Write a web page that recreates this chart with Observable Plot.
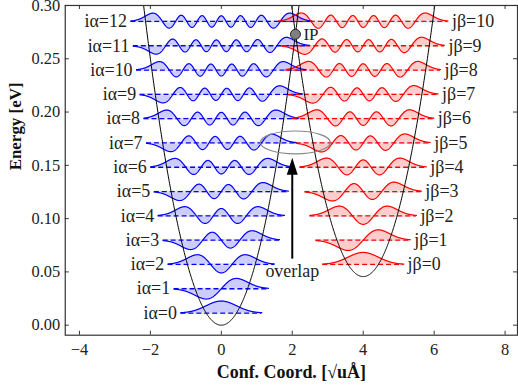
<!DOCTYPE html>
<html><head><meta charset="utf-8">
<script src="https://cdn.jsdelivr.net/npm/d3@7"></script>
<script src="https://cdn.jsdelivr.net/npm/@observablehq/plot@0.6"></script>
<style>body{margin:0;overflow:hidden;background:#fff}</style>
</head><body><div id="chart"></div>
<script>
// ---- data ----
const alphaN = [0,1,2,3,4,5,6,7,8,9,10,11,12];
const alphaLevels = [0.0114,0.0342,0.0570,0.0798,0.1026,0.1254,0.1482,0.1710,0.1938,0.2166,0.2394,0.2622,0.2850];
const alphaHalfWidth = [1.14,1.33,1.50,1.64,1.78,1.89,1.99,2.11,2.18,2.29,2.39,2.48,2.55];
const betaN = [0,1,2,3,4,5,6,7,8,9,10];
const betaLevels = [0.0570,0.0798,0.1026,0.1254,0.1482,0.1710,0.1938,0.2166,0.2394,0.2622,0.2850];
const betaHalfWidth = [1.14,1.33,1.50,1.64,1.78,1.89,1.99,2.11,2.18,2.29,2.39];
const wellCenters = [0, 4];
const wellMinima = [0, 0.0456];
const wellCurvature = 0.0625;     // eV per (sqrt(u)Å)^2
const wellHalfSpan = 2.35;
const waveSigma = 0.427;          // oscillator length
const waveAmplitude = 0.015;      // eV per unit of wavefunction
const xTicks = [-4,-2,0,2,4,6,8];
const yTicks = [0,0.05,0.10,0.15,0.20,0.25,0.30];
const ipPoint = [{x: 2.09, y: 0.273, label: "IP"}];
const overlapText = [{x: 2.0, y: 0.051, label: "overlap"}];
const arrowShaft = [{x: 2.0, y1: 0.062, y2: 0.142}];
const arrowTip = [{x: 2.0, y: 0.157}];
const ellipseCenter = {x: 2.10, y: 0.171};

// ---- build curves ----
function hermiteFn(n, xi) {
  let p0 = Math.pow(Math.PI, -0.25) * Math.exp(-xi * xi / 2);
  if (n === 0) return p0;
  let p1 = Math.SQRT2 * xi * p0;
  for (let k = 1; k < n; k++) {
    const p2 = Math.sqrt(2 / (k + 1)) * xi * p1 - Math.sqrt(k / (k + 1)) * p0;
    p0 = p1; p1 = p2;
  }
  return p1;
}
function makeStates(ns, levels, halfW, center, fam) {
  return ns.map((n, i) => ({id: fam + n, n, fam, level: levels[i], c: center, h: halfW[i]}));
}
const alphaStates = makeStates(alphaN, alphaLevels, alphaHalfWidth, wellCenters[0], "a");
const betaStates = makeStates(betaN, betaLevels, betaHalfWidth, wellCenters[1], "b");
function wavePoints(states) {
  const pts = [];
  for (const s of states) {
    const steps = Math.round(2 * s.h / 0.01);
    for (let k = 0; k <= steps; k++) {
      const x = s.c - s.h + (2 * s.h) * k / steps;
      const xi = (x - s.c) / waveSigma;
      pts.push({id: s.id, x, level: s.level, y: s.level + waveAmplitude * hermiteFn(s.n, xi)});
    }
  }
  return pts;
}
const alphaPts = wavePoints(alphaStates);
const betaPts = wavePoints(betaStates);
const wellPts = [];
wellCenters.forEach((c, w) => {
  for (let k = 0; k <= 400; k++) {
    const x = c - wellHalfSpan + 2 * wellHalfSpan * k / 400;
    wellPts.push({w, x, y: wellMinima[w] + wellCurvature * (x - c) ** 2});
  }
});

const W = 520, H = 389, mL = 65, mR = 1, mT = 5, mB = 53;
const pw = W - mL - mR, ph = H - mT - mB;
const blue = "#0000ff", red = "#ff0000", ink = "#222";

const tipSymbol = {draw(ctx) { ctx.moveTo(0, 0); ctx.lineTo(-5.5, 17); ctx.lineTo(5.5, 17); ctx.closePath(); }};

const plot = Plot.plot({
  width: W, height: H,
  marginLeft: mL, marginRight: mR, marginTop: mT, marginBottom: mB,
  style: {fontFamily: "'Liberation Serif', serif", fontSize: "16px", color: ink, background: "white"},
  x: {domain: [-4.4, 8.35]},
  y: {domain: [-0.0094, 0.30]},
  marks: [
    Plot.areaY(alphaPts, {x: "x", y1: "level", y2: "y", z: "id", fill: blue, fillOpacity: 0.2}),
    Plot.areaY(betaPts, {x: "x", y1: "level", y2: "y", z: "id", fill: red, fillOpacity: 0.2}),
    Plot.ruleY(alphaStates, {y: "level", x1: d => d.c - d.h, x2: d => d.c + d.h, stroke: "#e2e2e2", strokeWidth: 2.2}),
    Plot.ruleY(betaStates, {y: "level", x1: d => d.c - d.h, x2: d => d.c + d.h, stroke: "#e2e2e2", strokeWidth: 2.2}),
    Plot.ruleY(alphaStates, {y: "level", x1: d => d.c - d.h, x2: d => d.c + d.h, stroke: blue, strokeWidth: 1.3, strokeDasharray: "5,3"}),
    Plot.ruleY(betaStates, {y: "level", x1: d => d.c - d.h, x2: d => d.c + d.h, stroke: red, strokeWidth: 1.3, strokeDasharray: "5,3"}),
    Plot.line(alphaPts, {x: "x", y: "y", z: "id", stroke: blue, strokeWidth: 1.2}),
    Plot.line(betaPts, {x: "x", y: "y", z: "id", stroke: red, strokeWidth: 1.2}),
    Plot.line(wellPts, {x: "x", y: "y", z: "w", stroke: "#000", strokeWidth: 1, clip: true}),
    Plot.text(alphaStates, {x: d => d.c - d.h, y: "level", text: d => `iα=${d.n}`, textAnchor: "end", dx: -4, fontSize: 18, fill: ink, ariaLabel: "state-label"}),
    Plot.text(betaStates, {x: d => d.c + d.h, y: "level", text: d => `jβ=${d.n}`, textAnchor: "start", dx: 4, fontSize: 18, fill: ink, ariaLabel: "state-label"}),
    Plot.ruleX(arrowShaft, {x: "x", y1: "y1", y2: "y2", stroke: "#000", strokeWidth: 2}),
    Plot.dot(arrowTip, {x: "x", y: "y", symbol: tipSymbol, fill: "#000", stroke: "none"}),
    Plot.text(overlapText, {x: "x", y: "y", text: "label", fontSize: 18, fill: ink}),
    Plot.dot(ipPoint, {x: "x", y: "y", r: 5, fill: "#808080", stroke: "#222", strokeWidth: 1}),
    Plot.text(ipPoint, {x: "x", y: "y", text: "label", dx: 8, textAnchor: "start", fontSize: 17, fill: ink}),
    Plot.frame({stroke: "#333", strokeWidth: 1.2}),
    Plot.tickY(yTicks, {y: d => d, insetRight: pw - 4, stroke: "#333"}),
    Plot.tickY(yTicks, {y: d => d, insetLeft: pw - 4, stroke: "#333"}),
    Plot.tickX(xTicks, {x: d => d, insetTop: ph - 4, stroke: "#333"}),
    Plot.tickX(xTicks, {x: d => d, insetBottom: ph - 4, stroke: "#333"}),
    Plot.axisY({ticks: yTicks, tickSize: 0, tickPadding: 5, tickFormat: d3.format(".2f"), label: null, fontSize: 16.5}),
    Plot.axisX({ticks: xTicks, tickSize: 0, tickPadding: 8, tickFormat: d3.format("d"), label: null, fontSize: 16.5}),
    Plot.text(["Energy [eV]"], {frameAnchor: "left", dx: -50, rotate: -90, fontWeight: "bold", fontSize: 17, fill: "#111"}),
    Plot.text(["Conf. Coord. [√uÅ]"], {frameAnchor: "bottom", lineAnchor: "middle", dy: 37, fontWeight: "bold", fontSize: 18, fill: "#111", ariaLabel: "xlabel"})
  ]
});
document.getElementById("chart").append(plot);

// italic math part of the state labels
d3.select(plot).selectAll('g[aria-label="state-label"] text').each(function() {
  const t = this.textContent;
  const sym = t.slice(0, 2), num = t.slice(3);
  const sel = d3.select(this);
  sel.text(null);
  sel.append("tspan").style("font-style", "italic").text(sym);
  sel.append("tspan").attr("dx", 2.5).text("=");
  sel.append("tspan").attr("dx", 2.5).text(num);
});
// radical with overline in the x label
d3.select(plot).selectAll('g[aria-label="xlabel"] text').each(function() {
  const sel = d3.select(this);
  sel.text(null);
  sel.append("tspan").text("Conf. Coord. ");
  sel.append("tspan").attr("font-weight", "normal").text("[√");
  sel.append("tspan").attr("font-weight", "normal").style("text-decoration", "overline").text("uÅ");
  sel.append("tspan").attr("font-weight", "normal").text("]");
});
// ellipse around the overlap region
const sx = plot.scale("x"), sy = plot.scale("y");
d3.select(plot).append("ellipse")
  .attr("cx", sx.apply(ellipseCenter.x)).attr("cy", sy.apply(ellipseCenter.y))
  .attr("rx", 35).attr("ry", 11.5)
  .attr("fill", "none").attr("stroke", "#888").attr("stroke-width", 1.2);
</script>
</body></html>
